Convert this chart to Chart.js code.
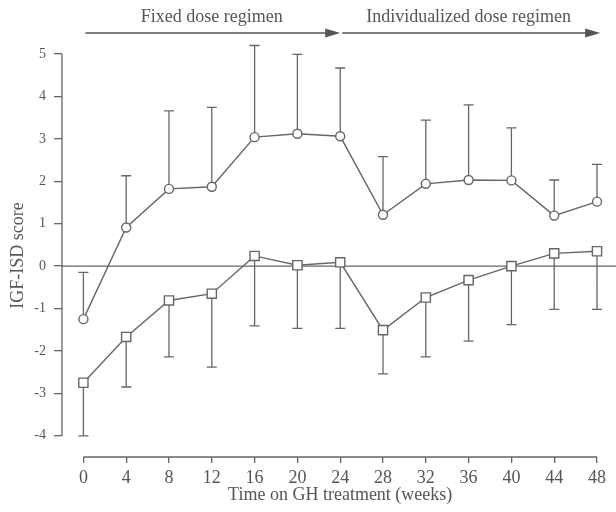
<!DOCTYPE html>
<html>
<head>
<meta charset="utf-8">
<script src="https://cdn.jsdelivr.net/npm/chart.js@4"></script>
<style>
  html, body { margin: 0; padding: 0; background: #fff; }
</style>
</head>
<body>
<canvas id="igfChart" width="616" height="512"></canvas>
<script>
// data (IGF-I SD score vs weeks of GH treatment)
const weeks = [0, 4, 8, 12, 16, 20, 24, 28, 32, 36, 40, 44, 48];
const circleMean  = [-1.25, 0.91, 1.82, 1.87, 3.04, 3.12, 3.06, 1.21, 1.94, 2.03, 2.02, 1.19, 1.52];
const circleUpper = [-0.15, 2.13, 3.66, 3.74, 5.20, 4.99, 4.67, 2.58, 3.44, 3.80, 3.26, 2.03, 2.40];
const squareMean  = [-2.75, -1.67, -0.81, -0.65, 0.24, 0.02, 0.09, -1.51, -0.74, -0.33, 0.00, 0.30, 0.35];
const squareLower = [-4.00, -2.85, -2.14, -2.38, -1.41, -1.47, -1.47, -2.54, -2.14, -1.77, -1.38, -1.02, -1.02];

const yTicks = [-4, -3, -2, -1, 0, 1, 2, 3, 4, 5];
const xTicks = weeks;

// treatment periods shown with arrows above the plot
const regimens = [
    { label: "Fixed dose regimen", from: 0, to: 24 },
    { label: "Individualized dose regimen", from: 24, to: 48.3 }
];

const ink = "#666";
const textInk = "#555";
const serif = "'Liberation Serif', 'Times New Roman', serif";

function toPoints(values) {
    return weeks.map((w, i) => ({ x: w, y: values[i] }));
}

// axes, zero line, error bars, arrows and titles
const figureExtras = {
    id: "figureExtras",
    beforeDatasetsDraw(chart) {
        const { ctx, chartArea } = chart;
        const x = chart.scales.x, y = chart.scales.y;
        ctx.save();
        ctx.strokeStyle = ink;
        ctx.lineWidth = 1.3;

        ctx.beginPath();
        // y axis runs from 5 down to -4 only
        ctx.moveTo(chartArea.left, y.getPixelForValue(yTicks[yTicks.length - 1]));
        ctx.lineTo(chartArea.left, y.getPixelForValue(yTicks[0]));
        // x axis from week 0 to week 48
        ctx.moveTo(x.getPixelForValue(xTicks[0]), chartArea.bottom);
        ctx.lineTo(x.getPixelForValue(xTicks[xTicks.length - 1]), chartArea.bottom);
        // zero reference line
        const y0 = y.getPixelForValue(0);
        ctx.moveTo(chartArea.left, y0);
        ctx.lineTo(chart.width, y0);
        ctx.stroke();

        // error bars: circles go up, squares go down
        const cap = 5;
        ctx.beginPath();
        weeks.forEach((w, i) => {
            const px = x.getPixelForValue(w);
            const c1 = y.getPixelForValue(circleMean[i]);
            const c2 = y.getPixelForValue(circleUpper[i]);
            ctx.moveTo(px, c1); ctx.lineTo(px, c2);
            ctx.moveTo(px - cap, c2); ctx.lineTo(px + cap, c2);
            const s1 = y.getPixelForValue(squareMean[i]);
            const s2 = y.getPixelForValue(squareLower[i]);
            ctx.moveTo(px, s1); ctx.lineTo(px, s2);
            ctx.moveTo(px - cap, s2); ctx.lineTo(px + cap, s2);
        });
        ctx.stroke();
        ctx.restore();
    },
    afterDraw(chart) {
        const { ctx } = chart;
        const x = chart.scales.x;
        ctx.save();
        ctx.strokeStyle = "#555";
        ctx.fillStyle = "#555";
        ctx.lineWidth = 1.4;
        const arrowY = 33;
        regimens.forEach(r => {
            const x1 = x.getPixelForValue(r.from) + 2;
            const x2 = x.getPixelForValue(r.to);
            ctx.beginPath();
            ctx.moveTo(x1, arrowY);
            ctx.lineTo(x2 - 12, arrowY);
            ctx.stroke();
            ctx.beginPath();
            ctx.moveTo(x2, arrowY);
            ctx.lineTo(x2 - 15, arrowY - 4.5);
            ctx.lineTo(x2 - 15, arrowY + 4.5);
            ctx.closePath();
            ctx.fill();

            ctx.fillStyle = textInk;
            ctx.font = "18px " + serif;
            ctx.textAlign = "center";
            ctx.textBaseline = "middle";
            const mid = (x.getPixelForValue(r.from) + x.getPixelForValue(Math.min(r.to, 48))) / 2;
            ctx.fillText(r.label, mid, 17);
            ctx.fillStyle = "#555";
        });

        // x axis title centred under weeks 0..48
        ctx.fillStyle = textInk;
        ctx.font = "18px " + serif;
        ctx.textAlign = "center";
        ctx.textBaseline = "middle";
        const cx = (x.getPixelForValue(xTicks[0]) + x.getPixelForValue(xTicks[xTicks.length - 1])) / 2;
        ctx.fillText("Time on GH treatment (weeks)", cx, 495);
        ctx.restore();
    }
};

new Chart(document.getElementById("igfChart"), {
    type: "line",
    data: {
        datasets: [
            {
                label: "circles",
                data: toPoints(circleMean),
                borderColor: ink,
                borderWidth: 1.4,
                pointStyle: "circle",
                pointRadius: 4.5,
                pointBorderWidth: 1.4,
                pointBackgroundColor: "#fff",
                pointBorderColor: ink,
                tension: 0,
                clip: false
            },
            {
                label: "squares",
                data: toPoints(squareMean),
                borderColor: ink,
                borderWidth: 1.4,
                pointStyle: "rect",
                pointRadius: 6.5,
                pointBorderWidth: 1.4,
                pointBackgroundColor: "#fff",
                pointBorderColor: ink,
                tension: 0,
                clip: false
            }
        ]
    },
    options: {
        responsive: false,
        animation: false,
        layout: { padding: { top: 54, right: 19, left: 0, bottom: 0 } },
        plugins: {
            legend: { display: false },
            tooltip: { enabled: false }
        },
        scales: {
            x: {
                type: "linear",
                min: -2,
                max: 48,
                afterBuildTicks: axis => { axis.ticks = xTicks.map(v => ({ value: v })); },
                afterFit: axis => { axis.height = 55; },
                border: { display: false },
                grid: { drawOnChartArea: false, drawTicks: true, tickLength: 6, color: ink, lineWidth: 1.3 },
                ticks: {
                    color: textInk,
                    font: { family: serif, size: 18 },
                    padding: 4,
                    maxRotation: 0,
                    autoSkip: false
                }
            },
            y: {
                min: -4.5,
                max: 5,
                afterBuildTicks: axis => { axis.ticks = yTicks.map(v => ({ value: v })); },
                afterFit: axis => { axis.width = 62; },
                border: { display: false },
                grid: { drawOnChartArea: false, drawTicks: true, tickLength: 8, color: ink, lineWidth: 1.3 },
                ticks: {
                    color: textInk,
                    font: { family: serif, size: 14 },
                    padding: 8
                },
                title: {
                    display: true,
                    text: "IGF-ISD score",
                    color: textInk,
                    font: { family: serif, size: 18 },
                    padding: { top: 7, bottom: 0 }
                }
            }
        }
    },
    plugins: [figureExtras]
});
</script>
</body>
</html>
